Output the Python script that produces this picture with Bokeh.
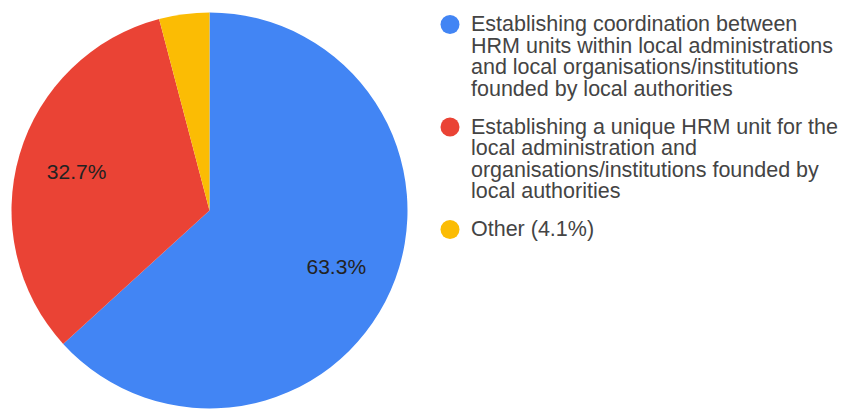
import math
from bokeh.plotting import figure
from bokeh.models import Range1d, ColumnDataSource
from bokeh.core.properties import value
from bokeh.embed import file_html
from bokeh.resources import INLINE

# ---- data ----
categories = [
    "Establishing coordination between HRM units within local administrations and local organisations/institutions founded by local authorities",
    "Establishing a unique HRM unit for the local administration and organisations/institutions founded by local authorities",
    "Other",
]
legend_lines = [
    ["Establishing coordination between", "HRM units within local administrations",
     "and local organisations/institutions", "founded by local authorities"],
    ["Establishing a unique HRM unit for the", "local administration and",
     "organisations/institutions founded by", "local authorities"],
    ["Other (4.1%)"],
]
shares = [63.3, 32.7, 4.1]
colors = ["#4285F4", "#EA4335", "#FBBC04"]
slice_labels = ["63.3%", "32.7%", ""]

# ---- layout ----
W, H = 841, 409
FONT = "Liberation Sans"
cx, cy, R = 209, 199, 198

p = figure(width=W, height=H, output_backend="svg", toolbar_location=None,
           x_range=Range1d(0, W), y_range=Range1d(0, H), min_border=0)
p.axis.visible = False
p.grid.visible = False
p.outline_line_color = None
p.background_fill_color = "white"
p.border_fill_color = "white"

total = sum(shares)
starts, ends, lx, ly = [], [], [], []
cum = 0.0
for s in shares:
    f0 = cum / total
    f1 = (cum + s) / total
    cum += s
    a_start = math.pi / 2 - 2 * math.pi * f1
    a_end = math.pi / 2 - 2 * math.pi * f0
    starts.append(a_start)
    ends.append(a_end)
    mid = (a_start + a_end) / 2
    lx.append(cx + 0.70 * R * math.cos(mid))
    ly.append(cy + 0.70 * R * math.sin(mid))

src = ColumnDataSource(dict(start=starts, end=ends, color=colors, lx=lx, ly=ly,
                            label=slice_labels, cat=categories))
p.wedge(x=cx, y=cy, radius=R, start_angle="start", end_angle="end",
        fill_color="color", line_color=None, direction="anticlock", source=src)
p.text(x="lx", y="ly", text="label", source=src, text_align="center",
       text_baseline="middle", text_font=value(FONT), text_font_size="21px",
       text_color="#222222")

# legend
leg_x_marker = 449.5
leg_x_text = 470.5
line_h = 21.5
group_gap = 38
tx, ty, tt = [], [], []
mx, my = [], []
base = H - 23.5
for lines in legend_lines:
    mx.append(leg_x_marker)
    my.append(base - 0.5)
    for i, ln in enumerate(lines):
        tx.append(leg_x_text)
        ty.append(base - i * line_h)
        tt.append(ln)
    base = base - (len(lines) - 1) * line_h - group_gap

p.scatter(x=mx, y=my, size=19, marker="circle", fill_color=colors, line_color=None)
p.text(x=tx, y=ty, text=tt, text_align="left", text_baseline="middle",
       text_font=value(FONT), text_font_size="21.5px", text_color="#444444")

open("out.html", "w").write(file_html(p, INLINE))
